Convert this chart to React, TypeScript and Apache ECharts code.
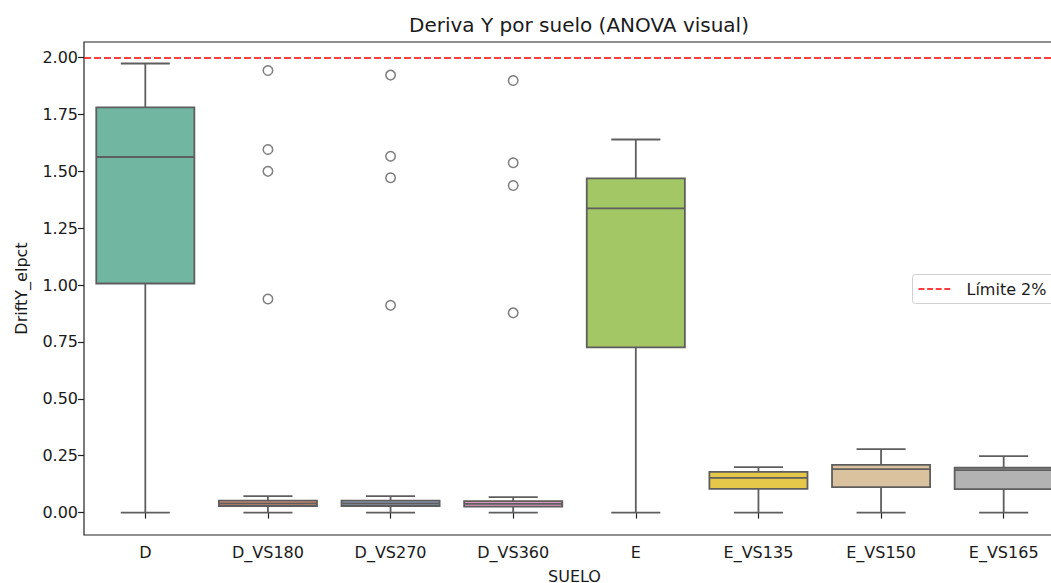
import { useEffect, useRef } from 'react';
import * as echarts from 'echarts';

const categories = ['D', 'D_VS180', 'D_VS270', 'D_VS360', 'E', 'E_VS135', 'E_VS150', 'E_VS165'];
const whiskerLow = [0, 0, 0, 0, 0, 0, 0, 0];
const q1 = [1.007, 0.029, 0.029, 0.026, 0.726, 0.104, 0.112, 0.103];
const median = [1.563, 0.040, 0.040, 0.038, 1.337, 0.153, 0.191, 0.187];
const q3 = [1.781, 0.053, 0.053, 0.050, 1.469, 0.179, 0.210, 0.197];
const whiskerHigh = [1.974, 0.072, 0.072, 0.068, 1.640, 0.200, 0.279, 0.248];

const outliersVS180 = [1.943, 1.596, 1.500, 0.939];
const outliersVS270 = [1.923, 1.566, 1.472, 0.911];
const outliersVS360 = [1.899, 1.538, 1.438, 0.878];

const boxColors = ['#71b6a1', '#e99575', '#95a3c3', '#db96c0', '#a2c764', '#e5c849', '#dbc29e', '#b3b3b3'];
const yTicks = [0, 0.25, 0.5, 0.75, 1.0, 1.25, 1.5, 1.75, 2.0];
const limitValue = 2.0;
const limitLabel = 'Límite 2%';

const LINE = '#5e5e5e';
const FONT = '"DejaVu Sans", sans-serif';
const TXT = '#1a1a1a';

export default function App() {
  const ref = useRef<HTMLDivElement>(null);
  useEffect(() => {
    const chart = echarts.init(ref.current!, null, { renderer: 'svg' });
    const boxData = categories.map((_, i) => [i, whiskerLow[i], q1[i], median[i], q3[i], whiskerHigh[i]]);
    const outlierData: [string, number][] = [
      ...outliersVS180.map((v) => ['D_VS180', v] as [string, number]),
      ...outliersVS270.map((v) => ['D_VS270', v] as [string, number]),
      ...outliersVS360.map((v) => ['D_VS360', v] as [string, number]),
    ];
    chart.setOption({
      animation: false,
      backgroundColor: '#ffffff',
      textStyle: { fontFamily: FONT },
      title: {
        text: 'Deriva Y por suelo (ANOVA visual)',
        left: 574,
        textAlign: 'center',
        top: 10,
        textStyle: { fontFamily: FONT, fontSize: 20, fontWeight: 'normal', color: TXT },
      },
      grid: {
        left: 84,
        top: 42,
        right: 1,
        bottom: 48,
        outerBoundsMode: 'none',
        containLabel: false,
        show: true,
        borderColor: '#222222',
        borderWidth: 1.2,
        backgroundColor: 'transparent',
      },
      xAxis: {
        type: 'category',
        data: categories,
        boundaryGap: true,
        name: 'SUELO',
        nameLocation: 'middle',
        nameGap: 33,
        nameTextStyle: { fontFamily: FONT, fontSize: 16, color: TXT },
        axisLine: { show: false },
        axisTick: { show: true, alignWithLabel: true, length: 6, lineStyle: { color: '#222222', width: 1.2 } },
        axisLabel: { fontFamily: FONT, fontSize: 16, color: TXT, margin: 9 },
        splitLine: { show: false },
      },
      yAxis: {
        type: 'value',
        min: -0.0985,
        max: 2.0685,
        name: 'DriftY_elpct',
        nameLocation: 'middle',
        nameRotate: 90,
        nameGap: 55,
        nameTextStyle: { fontFamily: FONT, fontSize: 16, color: TXT },
        axisLine: { show: false },
        axisTick: { show: true, length: 6, customValues: yTicks, lineStyle: { color: '#222222', width: 1.2 } },
        axisLabel: {
          fontFamily: FONT,
          fontSize: 16,
          color: TXT,
          margin: 6,
          customValues: yTicks,
          formatter: (v: number) => v.toFixed(2),
        },
        splitLine: { show: false },
      },
      series: [
        {
          type: 'custom',
          name: 'box',
          data: boxData,
          encode: { x: 0, y: [1, 2, 3, 4, 5] },
          renderItem: (params: any, api: any) => {
            const i = api.value(0);
            const pLow = api.coord([i, api.value(1)]);
            const pQ1 = api.coord([i, api.value(2)]);
            const pMed = api.coord([i, api.value(3)]);
            const pQ3 = api.coord([i, api.value(4)]);
            const pHigh = api.coord([i, api.value(5)]);
            const band = api.size([1, 0])[0];
            const bw = band * 0.8;
            const cw = bw * 0.5;
            const x = pLow[0];
            const st = { stroke: LINE, lineWidth: 1.8, fill: null };
            return {
              type: 'group',
              children: [
                { type: 'line', shape: { x1: x, y1: pQ1[1], x2: x, y2: pLow[1] }, style: st },
                { type: 'line', shape: { x1: x, y1: pQ3[1], x2: x, y2: pHigh[1] }, style: st },
                { type: 'line', shape: { x1: x - cw / 2, y1: pLow[1], x2: x + cw / 2, y2: pLow[1] }, style: st },
                { type: 'line', shape: { x1: x - cw / 2, y1: pHigh[1], x2: x + cw / 2, y2: pHigh[1] }, style: st },
                {
                  type: 'rect',
                  shape: { x: x - bw / 2, y: pQ3[1], width: bw, height: pQ1[1] - pQ3[1] },
                  style: { fill: boxColors[params.dataIndex], stroke: LINE, lineWidth: 1.8 },
                },
                { type: 'line', shape: { x1: x - bw / 2, y1: pMed[1], x2: x + bw / 2, y2: pMed[1] }, style: st },
              ],
            };
          },
          markLine: {
            silent: true,
            symbol: ['none', 'none'],
            label: { show: false },
            lineStyle: { color: '#ff0000', type: [7, 3], width: 1.6 },
            data: [{ yAxis: limitValue }],
          },
          z: 2,
        },
        {
          type: 'scatter',
          name: 'outliers',
          data: outlierData,
          symbol: 'circle',
          symbolSize: 9.5,
          itemStyle: { color: 'rgba(0,0,0,0)', borderColor: LINE, borderWidth: 1.5 },
          z: 3,
        },
      ],
      graphic: [
        {
          type: 'group',
          left: 912,
          top: 274,
          z: 100,
          children: [
            {
              type: 'rect',
              shape: { x: 0, y: 0, width: 170, height: 29, r: 3 },
              style: { fill: 'rgba(255,255,255,0.8)', stroke: '#d0d0d0', lineWidth: 1 },
            },
            {
              type: 'line',
              shape: { x1: 6, y1: 14.5, x2: 40, y2: 14.5 },
              style: { stroke: '#ff0000', lineWidth: 1.6, lineDash: [6, 2.6] },
            },
            {
              type: 'text',
              x: 54,
              y: 14.5,
              style: { text: limitLabel, font: `16px ${FONT}`, fill: TXT, verticalAlign: 'middle', align: 'left' },
            },
          ],
        },
      ],
    });
    return () => chart.dispose();
  }, []);
  return (
    <div style={{ position: 'fixed', left: 0, top: 0, width: 1051, height: 583, overflow: 'hidden' }}>
      <div ref={ref} style={{ width: 1066, height: 583 }} />
    </div>
  );
}
